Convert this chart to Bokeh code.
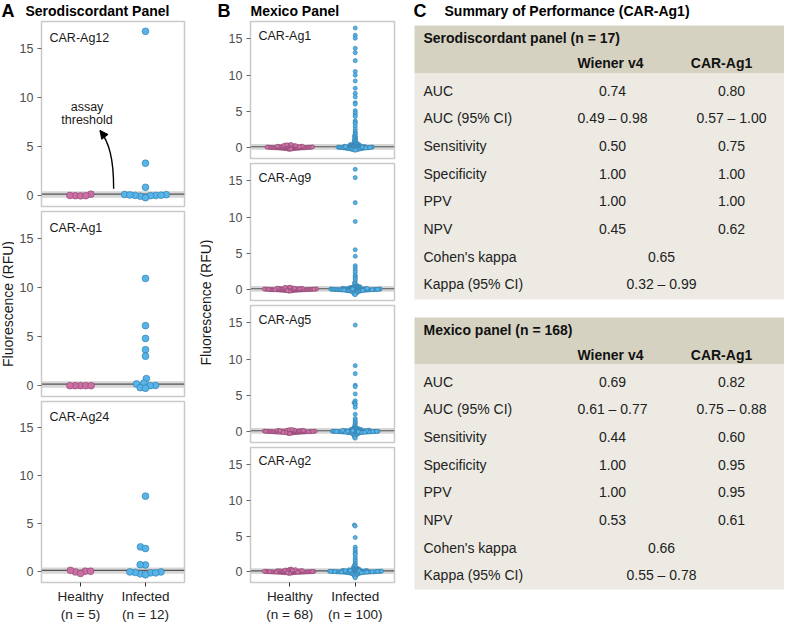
import math
from bokeh.plotting import figure
from bokeh.layouts import row, column
from bokeh.models import Range1d, FixedTicker, BoxAnnotation, Span, Arrow, NormalHead
from bokeh.core.properties import value
from bokeh.embed import file_html
from bokeh.resources import INLINE

# ---------------------------------------------------------------- data
group_names = ["Healthy", "Infected"]
sero_n = [5, 12]
mex_n = [68, 100]
y_ticks = [0, 5, 10, 15]

# Panel A: serodiscordant panel
sero_antigens = ["CAR-Ag12", "CAR-Ag1", "CAR-Ag24"]
sero_ag12_healthy = [0.00, -0.02, 0.02, 0.15, 0.00]
sero_ag12_infected = [16.7, 3.3, 0.85, 0.10, 0.02, 0.05, -0.05, 0.00, 0.12, 0.03, -0.20, 0.08]
sero_ag1_healthy = [0.00, 0.00, 0.00, 0.00, 0.00]
sero_ag1_infected = [10.9, 6.1, 4.8, 3.65, 3.0, 0.72, 0.25, 0.18, 0.02, 0.00, -0.20, -0.26]
sero_ag24_healthy = [0.07, 0.00, -0.16, 0.16, 0.07]
sero_ag24_infected = [7.87, 2.60, 2.43, 0.72, 0.75, -0.10, -0.20, 0.00, -0.30, -0.10, -0.05, 0.00]
sero_threshold = [0.15, 0.15, 0.15]
sero_band_low = [-0.20, -0.20, -0.20]
sero_band_high = [0.45, 0.45, 0.45]

# Panel B: Mexico panel
mex_antigens = ["CAR-Ag1", "CAR-Ag9", "CAR-Ag5", "CAR-Ag2"]
mex_ag1_healthy = [
    -0.21, -0.17, -0.15, -0.13, -0.12, -0.11, -0.10, -0.09, -0.09, -0.08,
    -0.07, -0.07, -0.06, -0.05, -0.05, -0.04, -0.04, -0.03, -0.03, -0.02,
    -0.02, -0.01, -0.01, 0.00, 0.00, 0.00, 0.01, 0.01, 0.02, 0.02,
    0.03, 0.03, 0.04, 0.04, 0.05, 0.05, 0.06, 0.06, 0.07, 0.08,
    0.08, 0.09, 0.10, 0.10, 0.11, 0.12, 0.13, 0.14, 0.15, 0.16,
    0.17, 0.18, 0.19, 0.20, 0.22, 0.23, 0.25, 0.27, 0.29, 0.31,
    0.33, 0.36, 0.39, 0.44, -0.24, -0.19, 0.12, 0.06]
mex_ag1_infected = [
    16.5, 15.5, 15.1, 13.7, 13.1, 12.0, 10.5, 10.0, 9.2, 8.2,
    7.5, 7.0, 6.2, 6.0, 5.1, 4.8, 4.5, 4.3, 3.7, 3.5,
    3.3, 2.9, 2.5, 2.2, 2.0, 1.8, 1.6, 1.5, 1.35, 1.2,
    1.1, 1.0, 0.9, 0.8, 0.7, 0.62, 0.55, 0.50,
    0.46, 0.42, 0.39, 0.36, 0.33, 0.31, 0.29, 0.27, 0.25, 0.23,
    0.21, 0.20, 0.18, 0.17, 0.15, 0.14, 0.13, 0.12, 0.11, 0.10,
    0.09, 0.08, 0.07, 0.06, 0.05, 0.05, 0.04, 0.03, 0.02, 0.02,
    0.01, 0.00, 0.00, -0.01, -0.02, -0.02, -0.03, -0.04, -0.05, -0.05,
    -0.06, -0.07, -0.08, -0.09, -0.10, -0.11, -0.12, -0.13, -0.14, -0.16,
    -0.17, -0.19, -0.21, -0.23, -0.25, -0.28, -0.31, -0.35, 0.03, 0.08,
    -0.04, 0.12]
mex_ag9_healthy = [
    -0.19, -0.16, -0.14, -0.12, -0.11, -0.10, -0.09, -0.08, -0.08, -0.07,
    -0.06, -0.06, -0.05, -0.05, -0.04, -0.04, -0.03, -0.03, -0.02, -0.02,
    -0.01, -0.01, 0.00, 0.00, 0.00, 0.01, 0.01, 0.01, 0.02, 0.02,
    0.03, 0.03, 0.04, 0.04, 0.05, 0.05, 0.06, 0.06, 0.07, 0.07,
    0.08, 0.08, 0.09, 0.10, 0.10, 0.11, 0.12, 0.13, 0.14, 0.15,
    0.16, 0.17, 0.18, 0.20, 0.21, 0.23, 0.25, 0.28, 0.31, 0.34,
    -0.22, -0.13, -0.02, 0.03, 0.09, 0.12, 0.19, 0.05]
mex_ag9_infected = [
    16.6, 15.45, 12.0, 9.4, 5.5, 4.6, 3.3, 3.0, 2.7, 2.4,
    2.0, 1.8, 1.6, 1.4, 1.1, 0.9, 0.75, 0.55,
    0.48, 0.44, 0.40, 0.37, 0.34, 0.31, 0.29, 0.27, 0.25, 0.23,
    0.21, 0.19, 0.18, 0.16, 0.15, 0.14, 0.13, 0.12, 0.11, 0.10,
    0.09, 0.08, 0.08, 0.07, 0.06, 0.05, 0.05, 0.04, 0.04, 0.03,
    0.03, 0.02, 0.02, 0.01, 0.01, 0.00, 0.00, 0.00, -0.01, -0.01,
    -0.02, -0.02, -0.03, -0.03, -0.04, -0.04, -0.05, -0.05, -0.06, -0.07,
    -0.07, -0.08, -0.09, -0.10, -0.11, -0.12, -0.13, -0.14, -0.15, -0.17,
    -0.18, -0.20, -0.22, -0.24, -0.26, -0.29, -0.32, -0.36, -0.40, -0.45,
    -0.52, -0.60, -0.70, 0.06, 0.11, -0.06, 0.02, -0.01, 0.17, 0.09,
    -0.12, 0.04]
mex_ag5_healthy = [
    -0.25, -0.21, -0.18, -0.16, -0.15, -0.13, -0.12, -0.11, -0.10, -0.10,
    -0.09, -0.08, -0.08, -0.07, -0.06, -0.06, -0.05, -0.05, -0.04, -0.04,
    -0.03, -0.03, -0.02, -0.02, -0.01, -0.01, 0.00, 0.00, 0.00, 0.01,
    0.01, 0.02, 0.02, 0.03, 0.03, 0.04, 0.04, 0.05, 0.05, 0.06,
    0.06, 0.07, 0.08, 0.08, 0.09, 0.10, 0.11, 0.12, 0.13, 0.14,
    0.15, 0.16, 0.18, 0.19, 0.21, 0.23, 0.26, 0.29, -0.28, -0.14,
    -0.07, 0.02, 0.07, 0.11, -0.01, 0.04, -0.11, 0.17]
mex_ag5_infected = [
    14.7, 9.1, 8.0, 6.4, 6.2, 5.2, 4.25, 4.0, 3.9, 3.7,
    3.35, 2.4, 1.8, 1.5, 1.3, 1.1, 0.9, 0.75, 0.6,
    0.50, 0.45, 0.41, 0.38, 0.35, 0.32, 0.30, 0.28, 0.26, 0.24,
    0.22, 0.20, 0.19, 0.17, 0.16, 0.15, 0.13, 0.12, 0.11, 0.10,
    0.09, 0.08, 0.07, 0.07, 0.06, 0.05, 0.05, 0.04, 0.03, 0.03,
    0.02, 0.02, 0.01, 0.01, 0.00, 0.00, -0.01, -0.01, -0.02, -0.03,
    -0.03, -0.04, -0.05, -0.05, -0.06, -0.07, -0.08, -0.09, -0.10, -0.11,
    -0.12, -0.13, -0.15, -0.16, -0.18, -0.20, -0.22, -0.25, -0.28, -0.31,
    -0.35, -0.40, -0.46, -0.53, -0.62, -0.75, -0.90, 0.04, 0.09, -0.02,
    0.14, -0.07, 0.01, 0.06, -0.12, 0.18, 0.00, -0.04, 0.11, 0.03,
    -0.09]
mex_ag2_healthy = [
    -0.20, -0.17, -0.15, -0.13, -0.12, -0.11, -0.10, -0.09, -0.09, -0.08,
    -0.07, -0.07, -0.06, -0.06, -0.05, -0.05, -0.04, -0.04, -0.03, -0.03,
    -0.02, -0.02, -0.01, -0.01, 0.00, 0.00, 0.00, 0.01, 0.01, 0.02,
    0.02, 0.03, 0.03, 0.04, 0.04, 0.05, 0.05, 0.06, 0.07, 0.07,
    0.08, 0.09, 0.10, 0.10, 0.11, 0.12, 0.13, 0.14, 0.15, 0.17,
    0.18, 0.20, 0.22, 0.24, 0.27, 0.30, 0.34, 0.38, -0.23, -0.14,
    -0.04, 0.01, 0.06, 0.11, 0.16, -0.08, 0.03, 0.21]
mex_ag2_infected = [
    6.55, 6.4, 4.8, 3.45, 3.1, 2.8, 2.6, 2.4, 2.0, 1.7,
    1.5, 1.2, 1.0, 0.85, 0.75, 0.55,
    0.50, 0.46, 0.42, 0.39, 0.36, 0.33, 0.30, 0.28, 0.26, 0.24,
    0.22, 0.20, 0.19, 0.17, 0.16, 0.15, 0.14, 0.12, 0.11, 0.10,
    0.09, 0.08, 0.08, 0.07, 0.06, 0.05, 0.05, 0.04, 0.04, 0.03,
    0.03, 0.02, 0.02, 0.01, 0.01, 0.00, 0.00, 0.00, -0.01, -0.01,
    -0.02, -0.02, -0.03, -0.04, -0.04, -0.05, -0.06, -0.06, -0.07, -0.08,
    -0.09, -0.10, -0.11, -0.12, -0.13, -0.15, -0.16, -0.18, -0.20, -0.22,
    -0.24, -0.27, -0.30, -0.34, -0.38, -0.43, -0.50, -0.58, -0.68, -0.85,
    0.07, -0.03, 0.12, 0.01, -0.08, 0.05, 0.18, -0.14, 0.02, 0.09,
    -0.01, 0.04, -0.05, 0.13]
mex_threshold = [0.12, 0.12, 0.12, 0.12]
mex_band_low = [-0.30, -0.30, -0.30, -0.30]
mex_band_high = [0.50, 0.50, 0.50, 0.50]

# Panel C: summary table
table_columns = ["Wiener v4", "CAR-Ag1"]
metric_labels = ["AUC", "AUC (95% CI)", "Sensitivity", "Specificity", "PPV", "NPV",
                 "Cohen's kappa", "Kappa (95% CI)"]
sero_title = "Serodiscordant panel (n = 17)"
sero_wiener = ["0.74", "0.49 \u2013 0.98", "0.50", "1.00", "1.00", "0.45"]
sero_car = ["0.80", "0.57 \u2013 1.00", "0.75", "1.00", "1.00", "0.62"]
sero_kappa = ["0.65", "0.32 \u2013 0.99"]
mex_title = "Mexico panel (n = 168)"
mex_wiener = ["0.69", "0.61 \u2013 0.77", "0.44", "1.00", "1.00", "0.53"]
mex_car = ["0.82", "0.75 \u2013 0.88", "0.60", "0.95", "0.95", "0.61"]
mex_kappa = ["0.66", "0.55 \u2013 0.78"]

# ---------------------------------------------------------------- style
FONT = "Liberation Sans"
PINK, PINK_LINE = "#CC6FA3", "#8A4570"
BLUE, BLUE_LINE = "#56B4E9", "#2E79A6"
HEADER_BG, BODY_BG = "#D6D2C2", "#ECEAE2"
TXT = "#1a1a1a"
X_LO, X_HI = 0.4, 2.6

COL_H = 605
A_W, A_L, A_R = 183, 27, 13
A_H = [189, 190, 226]
A_T = [2, 3, 3]
A_B = [2, 2, 38]
A_YR = (-1.1, 17.7)
B_W, B_L, B_R = 189, 37, 8
B_H = [141, 142, 142, 180]
B_T = [2, 3, 3, 3]
B_B = [2, 2, 2, 40]
B_YR = (-1.5, 17.4)


def beeswarm(vals, ppu_x, ppu_y, spacing):
    ys = [v * ppu_y for v in vals]
    order = sorted(range(len(ys)), key=lambda i: ys[i])
    placed = []
    offs = [0.0] * len(ys)
    for i in order:
        y = ys[i]
        near = [(px, py) for (px, py) in placed if abs(py - y) < spacing]
        cands = [0.0]
        for px, py in near:
            dx = math.sqrt(spacing ** 2 - (py - y) ** 2)
            cands.extend([px - dx, px + dx])
        cands.sort(key=lambda c: (round(abs(c), 6), c))
        chosen = 0.0
        for c in cands:
            if all((c - px) ** 2 + (y - py) ** 2 >= spacing ** 2 - 1e-6 for px, py in near):
                chosen = c
                break
        placed.append((chosen, y))
        offs[i] = chosen / ppu_x
    return offs


def blank_fig(w, h, xr, yr):
    p = figure(width=w, height=h, x_range=Range1d(*xr), y_range=Range1d(*yr),
               output_backend="svg", toolbar_location=None,
               x_axis_location=None, y_axis_location=None, min_border=0)
    p.grid.visible = False
    p.outline_line_color = None
    return p


def scatter_panel(name, healthy, infected, counts, thr, blo, bhi, w, h, l, r, t, b, yr,
                  dot, spacing, show_x, lab_dx, lab_dy):
    fw, fh = w - l - r, h - t - b
    ppu_x = fw / (X_HI - X_LO)
    ppu_y = fh / (yr[1] - yr[0])
    p = figure(width=w, height=h, x_range=Range1d(X_LO, X_HI), y_range=Range1d(*yr),
               output_backend="svg", toolbar_location=None,
               x_axis_location="below" if show_x else None,
               min_border_left=l, min_border_right=r, min_border_top=t, min_border_bottom=b)
    p.grid.visible = False
    p.outline_line_color = "#c9c9c9"
    p.outline_line_width = 1.5
    p.add_layout(BoxAnnotation(bottom=blo, top=bhi, fill_color="#d6d6d6", fill_alpha=1.0,
                               line_color=None, level="underlay"))
    p.add_layout(Span(location=thr, dimension="width", line_color="#555555",
                      line_width=1.2, level="underlay"))
    for gi, (vals, fc, lc) in enumerate([(healthy, PINK, PINK_LINE), (infected, BLUE, BLUE_LINE)]):
        offs = beeswarm(vals, ppu_x, ppu_y, spacing)
        xs = [gi + 1 + o for o in offs]
        p.scatter(xs, vals, size=dot, fill_color=fc, line_color=lc, line_width=0.6)
    p.text(x=[X_LO + lab_dx / ppu_x], y=[yr[1] - lab_dy / ppu_y], text=[name],
           text_font=value(FONT), text_font_size="12.5px", text_color=TXT,
           text_align="left", text_baseline="middle")
    ya = p.yaxis[0]
    ya.ticker = FixedTicker(ticks=y_ticks)
    ya.axis_line_color = None
    ya.major_tick_line_color = "#666666"
    ya.major_tick_out = 4
    ya.major_tick_in = 0
    ya.minor_tick_out = 0
    ya.major_label_standoff = 4
    ya.major_label_text_font = FONT
    ya.major_label_text_font_size = "12.5px"
    ya.major_label_text_color = "#4d4d4d"
    if show_x:
        xa = p.xaxis[0]
        xa.ticker = FixedTicker(ticks=[1, 2])
        xa.major_label_overrides = {i + 1: f"{g}\n(n = {n})"
                                    for i, (g, n) in enumerate(zip(group_names, counts))}
        xa.axis_line_color = None
        xa.major_tick_line_color = "#333333"
        xa.major_tick_out = 4
        xa.major_tick_in = 0
        xa.major_label_standoff = 2
        xa.major_label_text_font = FONT
        xa.major_label_text_font_size = "13.5px"
        xa.major_label_text_color = "#222222"
    return p, ppu_x, ppu_y


# ---------------------------------------------------------------- panel A
sero_h = [sero_ag12_healthy, sero_ag1_healthy, sero_ag24_healthy]
sero_i = [sero_ag12_infected, sero_ag1_infected, sero_ag24_infected]
col_a = []
for k in range(3):
    p, ppx, ppy = scatter_panel(sero_antigens[k], sero_h[k], sero_i[k], sero_n,
                                sero_threshold[k], sero_band_low[k], sero_band_high[k],
                                A_W, A_H[k], A_L, A_R, A_T[k], A_B[k], A_YR,
                                6.8, 5.3, k == 2, 8, 16)
    if k == 0:
        # annotation: assay threshold
        ax = 1.1
        p.text(x=[ax, ax], y=[A_YR[1] - 85 / ppy, A_YR[1] - 98 / ppy],
               text=["assay", "threshold"], text_font=value(FONT), text_font_size="12.5px",
               text_color=TXT, text_align="center", text_baseline="middle")
        x0, y0 = 1.51, 0.7
        x1, y1 = 1.30, A_YR[1] - 109 / ppy
        p.bezier(x0=[x0], y0=[y0], x1=[x1], y1=[y1], cx0=[1.51], cy0=[3.8],
                 cx1=[1.44], cy1=[y1 - 1.2], line_color="black", line_width=1.4)
        p.add_layout(Arrow(end=NormalHead(size=8, fill_color="black", line_color="black"),
                           x_start=x1 + 0.035, y_start=y1 - 0.3, x_end=x1, y_end=y1,
                           line_color="black", line_width=1.4))
    col_a.append(p)

# ---------------------------------------------------------------- panel B
mex_h = [mex_ag1_healthy, mex_ag9_healthy, mex_ag5_healthy, mex_ag2_healthy]
mex_i = [mex_ag1_infected, mex_ag9_infected, mex_ag5_infected, mex_ag2_infected]
col_b = []
for k in range(4):
    p, _, _ = scatter_panel(mex_antigens[k], mex_h[k], mex_i[k], mex_n,
                            mex_threshold[k], mex_band_low[k], mex_band_high[k],
                            B_W, B_H[k], B_L, B_R, B_T[k], B_B[k], B_YR,
                            4.1, 1.35, k == 3, 8, 14)
    col_b.append(p)

# ---------------------------------------------------------------- strips
title_strip = blank_fig(402, 19, (0, 402), (0, 19))
title_strip.text(x=[1, 217], y=[9, 9], text=["A", "B"], text_font=value(FONT),
                 text_font_size="18px", text_font_style="bold", text_color="#000000",
                 text_align="left", text_baseline="middle")
title_strip.text(x=[25, 250], y=[9, 9], text=["Serodiscordant Panel", "Mexico Panel"],
                 text_font=value(FONT), text_font_size="14px", text_font_style="bold",
                 text_color="#000000", text_align="left", text_baseline="middle")

ylab_a = blank_fig(14, COL_H, (0, 1), (0, COL_H))
a_mid = A_H[0] + A_T[1] + (A_H[1] - A_T[1] - A_B[1]) / 2
ylab_a.text(x=[0.5], y=[COL_H - a_mid], text=["Fluorescence (RFU)"], angle=math.pi / 2,
            text_font=value(FONT), text_font_size="14px", text_color=TXT,
            text_align="center", text_baseline="middle")
ylab_b = blank_fig(16, COL_H, (0, 1), (0, COL_H))
b_mid = B_H[0] + B_H[1]
ylab_b.text(x=[0.55], y=[COL_H - b_mid], text=["Fluorescence (RFU)"], angle=math.pi / 2,
            text_font=value(FONT), text_font_size="14px", text_color=TXT,
            text_align="center", text_baseline="middle")

# ---------------------------------------------------------------- panel C
C_W, C_H = 382, 624
pc = blank_fig(C_W, C_H, (0, C_W), (C_H, 0))
pc.text(x=[11], y=[10], text=["C"], text_font=value(FONT), text_font_size="18px",
        text_font_style="bold", text_color="#000000", text_align="left", text_baseline="middle")
pc.text(x=[42], y=[10], text=["Summary of Performance (CAR-Ag1)"], text_font=value(FONT),
        text_font_size="14px", text_font_style="bold", text_color="#000000",
        text_align="left", text_baseline="middle")

TBL_L, TBL_R = 12, C_W
LBL_X, HC1_X, HC2_X, V1_X, V2_X, VK_X = 21, 208, 319, 210, 329, 259
ROW = 27.7


def draw_table(top, hb, bot, title, wiener, car, kappa):
    pc.quad(left=[TBL_L], right=[TBL_R], top=[top], bottom=[hb], fill_color=HEADER_BG, line_color=None)
    pc.quad(left=[TBL_L], right=[TBL_R], top=[hb], bottom=[bot], fill_color=BODY_BG, line_color=None)
    bold = dict(text_font=value(FONT), text_font_size="14px", text_font_style="bold",
                text_color="#111111", text_baseline="middle")
    norm = dict(text_font=value(FONT), text_font_size="14px", text_color="#222222",
                text_baseline="middle")
    pc.text(x=[LBL_X], y=[top + 12], text=[title], text_align="left", **bold)
    pc.text(x=[HC1_X, HC2_X], y=[top + 37, top + 37], text=table_columns, text_align="center", **bold)
    ys = [hb + 17 + i * ROW for i in range(len(metric_labels))]
    pc.text(x=[LBL_X] * len(metric_labels), y=ys, text=metric_labels, text_align="left", **norm)
    pc.text(x=[V1_X] * len(wiener), y=ys[:len(wiener)], text=wiener, text_align="center", **norm)
    pc.text(x=[V2_X] * len(car), y=ys[:len(car)], text=car, text_align="center", **norm)
    pc.text(x=[VK_X] * len(kappa), y=ys[len(wiener):], text=kappa, text_align="center", **norm)


draw_table(25, 73, 299, sero_title, sero_wiener, sero_car, sero_kappa)
draw_table(317, 364, 589, mex_title, mex_wiener, mex_car, mex_kappa)

layout = row(column(title_strip, row(ylab_a, column(*col_a), ylab_b, column(*col_b))), pc)

open("out.html", "w").write(file_html(layout, INLINE))
